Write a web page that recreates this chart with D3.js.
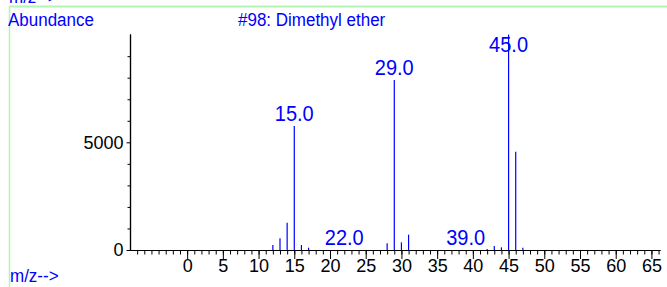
<!DOCTYPE html>
<html>
<head>
<meta charset="utf-8">
<script src="https://cdn.jsdelivr.net/npm/d3@7"></script>
<style>
  body { margin: 0; background: #fff; }
  svg { display: block; font-family: "Liberation Sans", Arial, sans-serif; }
</style>
</head>
<body>
<div id="chart"></div>
<script>
// spectrum data: m/z and abundance
const mz = [12, 13, 14, 15, 16, 17, 28, 29, 30, 31, 42, 43, 44, 45, 46, 47];
const abundance = [232, 543, 1267, 5757, 232, 107, 311, 7892, 356, 712, 50, 186, 124, 10000, 4563, 107];

// peaks with a label
const labelMz = [15, 22, 29, 39, 45];
const labelText = ["15.0", "22.0", "29.0", "39.0", "45.0"];

const xMinorTicks = d3.range(-7, 67, 1);
const xMajorTicks = [0, 5, 10, 15, 20, 25, 30, 35, 40, 45, 50, 55, 60, 65];
const yMinorTicks = [1000, 2000, 3000, 4000, 6000, 7000, 8000, 9000];
const yMajorTicks = [0, 5000];

const title = "#98: Dimethyl ether";

const width = 667, height = 287;
const blue = "#0000ff";
const stretch = 1.12; // the original text is a bit taller than wide

const svg = d3.select('#chart')
    .append('svg')
    .attr('width', width)
    .attr('height', height);

// light green frame
svg.append('line')
    .attr('x1', 9.5).attr('x2', width)
    .attr('y1', 6.5).attr('y2', 6.5)
    .attr('stroke', '#b4f5b4').attr('stroke-width', 2);
svg.append('line')
    .attr('x1', 9.5).attr('x2', 9.5)
    .attr('y1', 6).attr('y2', height)
    .attr('stroke', '#b4f5b4').attr('stroke-width', 1.5);

const xScale = d3.scaleLinear()
    .domain([-8, 66.2])
    .range([130, 660]);
const yScale = d3.scaleLinear()
    .domain([0, 10030])
    .range([250, 34]);

// x axis, minor then major ticks
svg.append('g')
    .attr('transform', `translate(0, ${yScale(0)})`)
    .call(d3.axisBottom(xScale).tickValues(xMinorTicks).tickSize(4.5).tickSizeOuter(0).tickFormat(''));
svg.append('g')
    .attr('class', 'x major')
    .attr('transform', `translate(0, ${yScale(0)})`)
    .call(d3.axisBottom(xScale).tickValues(xMajorTicks).tickSize(9).tickSizeOuter(0).tickPadding(0).tickFormat(d3.format('d')));

// y axis
svg.append('g')
    .attr('transform', `translate(${xScale(-8)}, 0)`)
    .call(d3.axisLeft(yScale).tickValues(yMinorTicks).tickSize(2.5).tickSizeOuter(0).tickFormat(''));
svg.append('g')
    .attr('class', 'y major')
    .attr('transform', `translate(${xScale(-8)}, 0)`)
    .call(d3.axisLeft(yScale).tickValues(yMajorTicks).tickSize(3.5).tickSizeOuter(0).tickPadding(3).tickFormat(d3.format('d')));

svg.selectAll('.domain').attr('stroke', '#000').attr('stroke-width', 1.2);
svg.selectAll('.tick line').attr('stroke', '#000');
svg.selectAll('.tick text')
    .attr('fill', '#000')
    .style('font-size', '18px')
    .style('font-family', '"Liberation Sans", Arial, sans-serif');

// peaks
svg.append('g')
    .selectAll('line')
    .data(mz)
    .join('line')
    .attr('x1', d => xScale(d))
    .attr('x2', d => xScale(d))
    .attr('y1', yScale(0))
    .attr('y2', (d, i) => yScale(abundance[i]))
    .attr('stroke', blue)
    .attr('stroke-width', 1.2);

// peak labels
svg.append('g')
    .selectAll('text')
    .data(labelMz)
    .join('text')
    .attr('transform', d => {
        const k = mz.indexOf(d);
        const v = k < 0 ? 0 : abundance[k];
        const y = Math.max(yScale(v) - 5, 52);
        return `translate(${xScale(d)}, ${y}) scale(1, ${stretch})`;
    })
    .attr('text-anchor', 'middle')
    .attr('fill', blue)
    .style('font-size', '20px')
    .text((d, i) => labelText[i]);

// titles
function label(x, y, txt) {
    svg.append('text')
        .attr('transform', `translate(${x}, ${y}) scale(1, ${stretch})`)
        .attr('fill', blue)
        .style('font-size', '17px')
        .text(txt);
}
label(8, 26, 'Abundance');
label(238, 26, title);
label(9, 3, 'm/z-->');
label(10, 282, 'm/z-->');
</script>
</body>
</html>
